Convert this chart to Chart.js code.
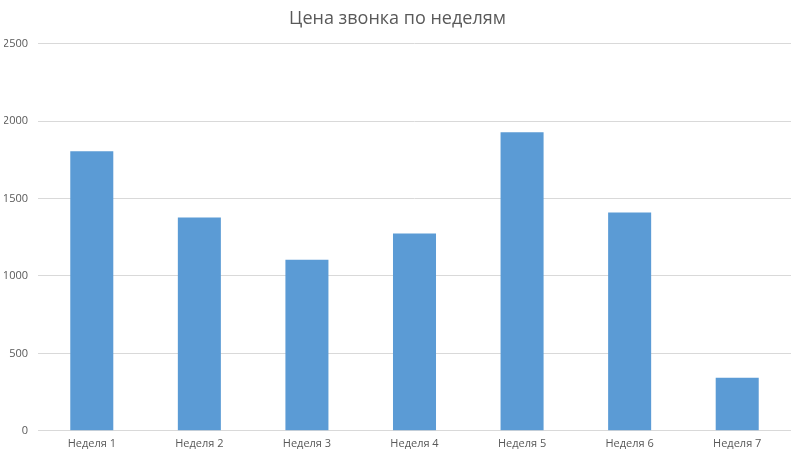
<!DOCTYPE html>
<html>
<head>
<meta charset="utf-8">
<script src="https://cdn.jsdelivr.net/npm/chart.js@4"></script>
<style>
  html, body { margin: 0; padding: 0; background: #fff; }
  #wrap { width: 791px; height: 456px; }
</style>
</head>
<body>
<div id="wrap"><canvas id="calls"></canvas></div>
<script>
const weeks = ['Неделя 1', 'Неделя 2', 'Неделя 3', 'Неделя 4', 'Неделя 5', 'Неделя 6', 'Неделя 7'];
const callPrice = [1805, 1378, 1105, 1274, 1928, 1410, 342];
const yTicks = [0, 500, 1000, 1500, 2000, 2500];

const textColor = '#595959';

const config = {
    type: 'bar',
    data: {
        labels: weeks,
        datasets: [{
            label: 'Цена звонка',
            data: callPrice,
            backgroundColor: '#5b9bd5',
            borderWidth: 0,
            categoryPercentage: 1.0,
            barPercentage: 0.4
        }]
    },
    options: {
        responsive: true,
        maintainAspectRatio: false,
        animation: false,
        layout: { padding: { left: 4, right: 0, top: 8, bottom: 0 } },
        plugins: {
            legend: { display: false },
            tooltip: { enabled: false },
            title: {
                display: true,
                text: 'Цена звонка по неделям',
                color: textColor,
                font: { family: 'Open Sans', size: 18, weight: 'normal' },
                padding: { top: 0, bottom: 14 }
            }
        },
        scales: {
            x: {
                grid: { display: false, drawTicks: false },
                border: { color: '#d9d9d9', width: 1 },
                ticks: {
                    color: textColor,
                    font: { family: 'Open Sans', size: 11 },
                    padding: 6,
                    maxRotation: 0
                }
            },
            y: {
                min: 0,
                max: 2500,
                afterBuildTicks: axis => { axis.ticks = yTicks.map(v => ({ value: v })); },
                afterFit: axis => { axis.width = 34; },
                grid: { color: '#d9d9d9', drawTicks: false },
                border: { display: false },
                ticks: {
                    color: textColor,
                    font: { family: 'Open Sans', size: 11 },
                    padding: 10,
                    callback: v => String(v)
                }
            }
        }
    }
};

const chart = new Chart('calls', config);
</script>
</body>
</html>
